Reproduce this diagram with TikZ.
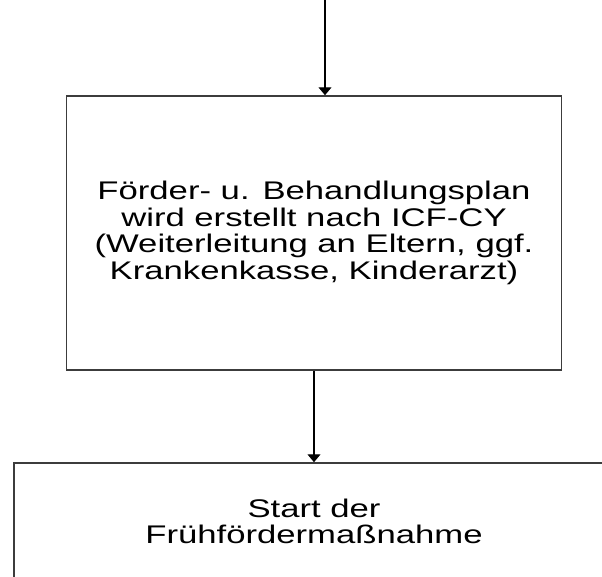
\documentclass[tikz,border=0pt]{standalone}
\usepackage{fontspec}
\setmainfont{Liberation Sans}[FakeStretch=1.36]
\usetikzlibrary{arrows.meta}
\definecolor{edgegray}{RGB}{60,60,60}
\begin{document}
\begin{tikzpicture}[x=1pt,y=-1pt,
  box/.style={draw=edgegray, line width=1.5pt, rectangle, align=center, inner sep=0pt,
    font=\fontsize{25.5}{26.6}\selectfont},
  arr/.style={-{Triangle[width=13pt,length=8pt]}, line width=1.3pt}]
\useasboundingbox (0,0) rectangle (602,576);
\clip (0,0) rectangle (602,576);
\node[box, minimum width=495pt, minimum height=274pt] (b1) at (314,233)
  {Förder- u. Behandlungsplan\\wird erstellt nach ICF-CY\\(Weiterleitung an Eltern, ggf.\\Krankenkasse, Kinderarzt)};
\node[box, minimum width=600pt, minimum height=117pt] (b2) at (314,521.5)
  {Start der\\Frühfördermaßnahme};
\coordinate (top) at (325,0);
\draw[arr] (top) -- (top |- b1.north);
\draw[arr] (b1.south) -- (b2.north);
\end{tikzpicture}
\end{document}
